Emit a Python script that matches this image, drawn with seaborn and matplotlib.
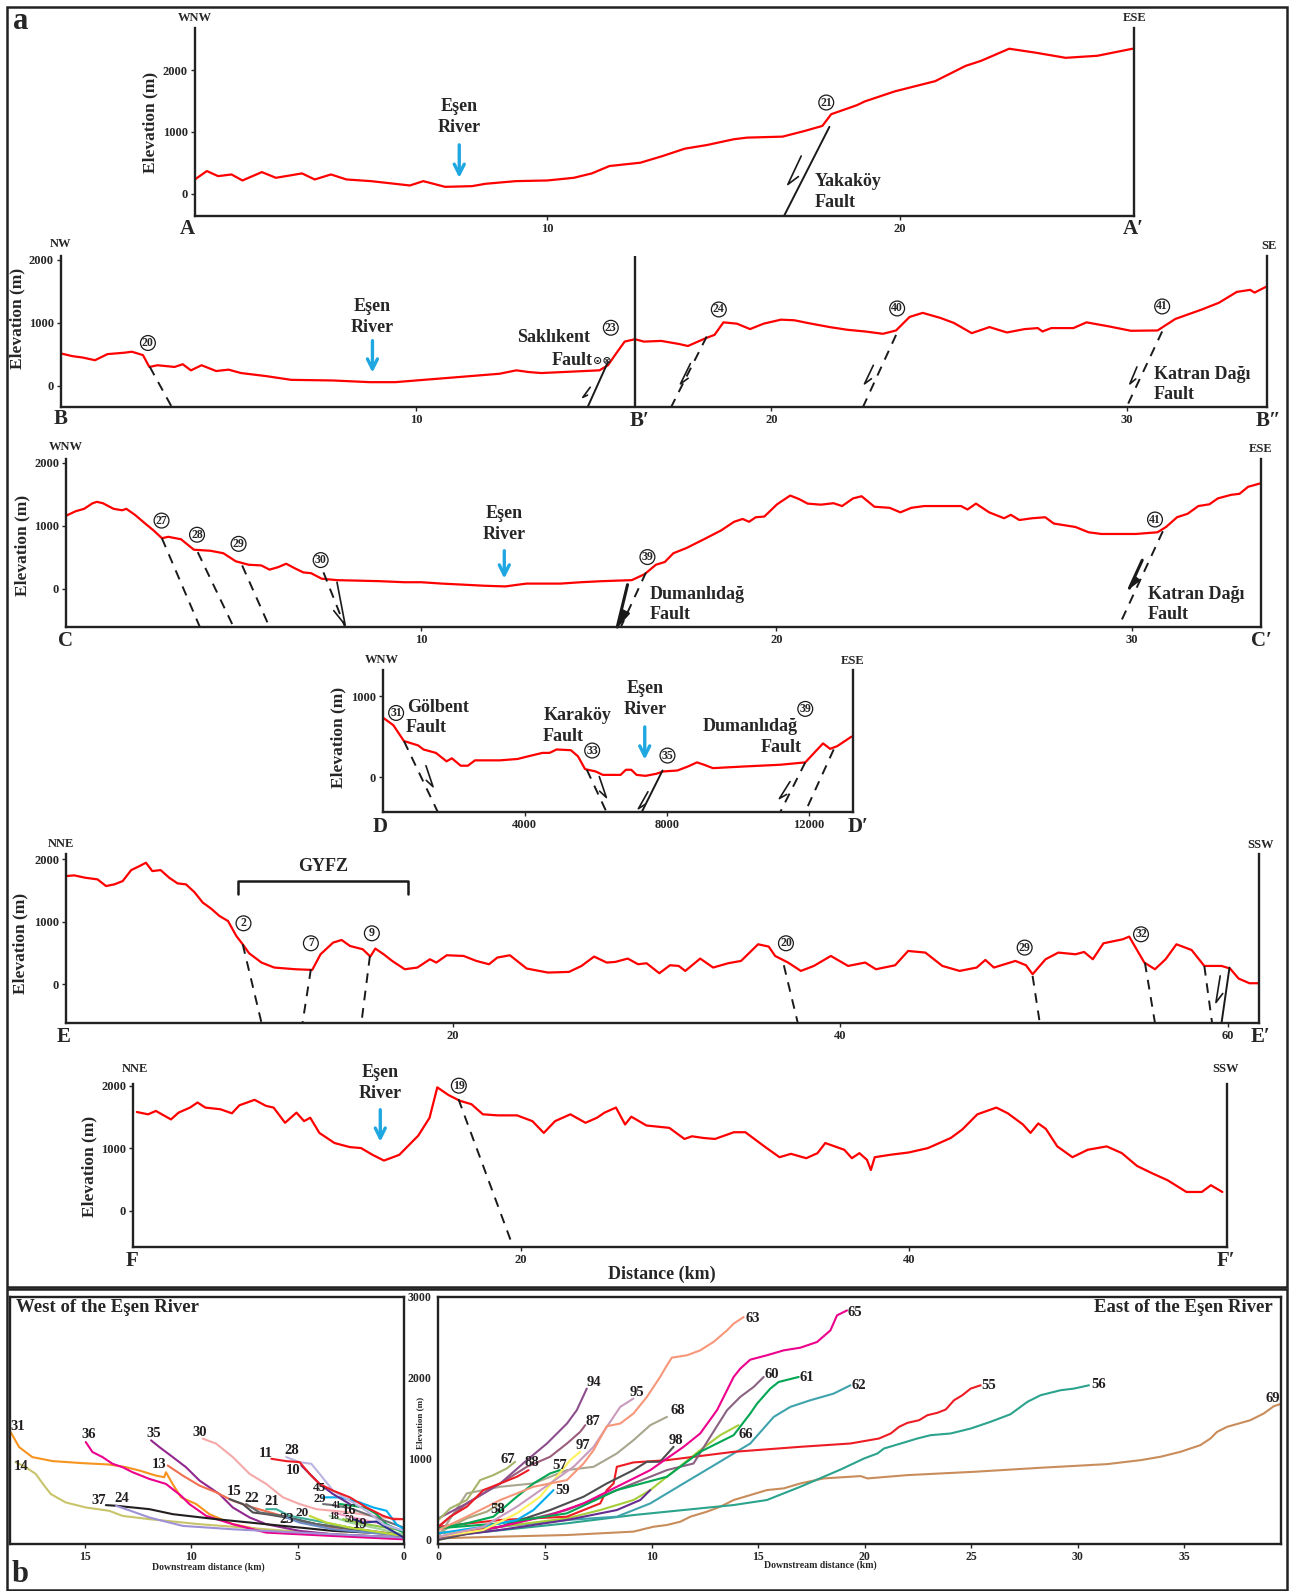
import numpy as np
import pandas as pd
import seaborn as sns
import matplotlib.pyplot as plt
from matplotlib.patches import Rectangle

sns.set_theme(style="white")
plt.rcParams['font.family'] = ['Liberation Serif', 'DejaVu Serif']
plt.rcParams['font.weight'] = 'bold'
plt.rcParams['axes.labelweight'] = 'bold'

# ---------------- topographic profiles (distance km, elevation m) ----------------
A_DIST = [0, 0.34, 0.66, 1.04, 1.35, 1.9, 2.3, 3.04, 3.4, 3.86, 4.3, 5.0, 6.1, 6.48, 7.1, 7.86,
          8.24, 9.1, 10, 10.75, 11.26, 11.76, 12.64, 13.27, 13.9, 14.53, 15.28, 15.66, 16.67,
          17.3, 17.8, 18.05, 18.78, 19.0, 19.86, 21.0, 21.86, 22.3, 23.1, 23.86, 24.7, 25.6, 26.6]
A_ELEV = [232, 368, 286, 313, 216, 351, 259, 330, 232, 313, 232, 205, 135, 205, 113, 124,
          162, 205, 216, 259, 330, 449, 503, 611, 730, 789, 881, 908, 924,
          1016, 1097, 1286, 1432, 1492, 1656, 1820, 2066, 2148, 2344, 2279, 2197, 2230, 2344]

B_DIST = [0, 0.32, 0.61, 0.96, 1.31, 1.78, 2.0, 2.31, 2.49, 2.72, 3.2, 3.43, 3.66, 3.96, 4.37,
          4.72, 5.07, 5.77, 6.48, 7.65, 8.7, 9.41, 10, 11.17, 12.35, 12.82, 13.17, 13.52, 15.16,
          15.4, 15.63, 15.87, 16.16, 16.41, 16.9, 17.4, 17.65, 18.15, 18.4, 18.65, 19.03, 19.4,
          19.78, 20.27, 20.65, 21.02, 21.64, 22.14, 22.64, 23.14, 23.51, 23.89, 24.26, 24.76,
          25.14, 25.64, 26.14, 26.63, 27.13, 27.5, 27.63, 27.88, 28.5, 28.87, 29.5, 30.12,
          30.87, 31.37, 32.12, 32.6, 33.1, 33.48, 33.6, 33.94]
B_ELEV = [511, 468, 446, 403, 500, 522, 538, 484, 296, 323, 296, 339, 242, 323, 231,
          253, 199, 151, 91, 81, 54, 54, 81, 134, 188, 242, 215, 199, 242,
          323, 511, 699, 737, 699, 710, 661, 629, 753, 806, 1005, 984, 898,
          984, 1048, 1038, 995, 930, 887, 860, 823, 876, 1091, 1156, 1075,
          995, 833, 930, 844, 898, 914, 860, 914, 914, 1005, 941, 871,
          876, 1059, 1210, 1317, 1489, 1522, 1478, 1575]

C_DIST = [0, 0.27, 0.51, 0.75, 0.87, 1.04, 1.34, 1.58, 1.7, 1.94, 2.23, 2.47, 2.7, 2.88, 3.24,
          3.6, 4.07, 4.43, 4.78, 5.14, 5.5, 5.73, 5.97, 6.2, 6.44, 6.68, 6.9, 7.2, 7.63, 8.81,
          9.53, 10, 10.59, 11.19, 11.78, 12.37, 12.73, 12.97, 13.44, 13.92, 14.5, 15.1, 15.93,
          16.29, 16.61, 16.86, 17.1, 17.47, 17.96, 18.44, 18.81, 19.05, 19.23, 19.42, 19.66,
          20.02, 20.39, 20.64, 20.88, 21.25, 21.61, 21.85, 22.16, 22.4, 22.76, 23.19, 23.49,
          23.8, 24.16, 24.77, 25.2, 25.38, 25.62, 25.99, 26.41, 26.6, 26.84, 27.2, 27.57,
          27.81, 28.42, 28.79, 29.15, 30.12, 30.73, 30.97, 31.28, 31.58, 31.88, 32.19, 32.43,
          32.8, 33.04, 33.28, 33.63]
C_ELEV = [1156, 1228, 1267, 1356, 1378, 1356, 1267, 1244, 1267, 1172, 1033, 922, 800, 822, 783,
          617, 600, 561, 433, 378, 367, 300, 339, 394, 322, 256, 244, 156, 133, 117,
          100, 100, 78, 61, 44, 33, 61, 78, 78, 78, 100, 117, 133,
          228, 378, 422, 561, 644, 783, 922, 1061, 1106, 1061, 1133, 1144,
          1339, 1478, 1422, 1350, 1333, 1356, 1311, 1433, 1467, 1300, 1283, 1211,
          1283, 1311, 1311, 1311, 1256, 1350, 1211, 1117, 1172, 1089, 1117, 1133,
          1033, 978, 894, 867, 867, 894, 978, 1133, 1189, 1311, 1339, 1433,
          1489, 1506, 1617, 1672]

# profile D distance in metres
D_DIST = [0, 300, 600, 1000, 1150, 1500, 1800, 1950, 2200, 2400, 2600, 3300, 3800, 4100, 4500,
          4700, 4900, 5300, 5500, 5700, 6000, 6200, 6700, 6850, 7000, 7150, 7400, 7700, 7900,
          8300, 8600, 8850, 9050, 9300, 10200, 11200, 11900, 12150, 12400, 12600, 12800, 13200]
D_ELEV = [737, 642, 446, 392, 342, 300, 196, 233, 142, 142, 208, 208, 225, 258, 300,
          300, 342, 333, 258, 100, 71, 29, 29, 92, 92, 29, 17, 42, 71,
          83, 133, 183, 154, 112, 133, 154, 183, 300, 417, 350, 383, 500]

E_DIST = [0, 0.43, 0.98, 1.63, 2.07, 2.5, 2.93, 3.37, 3.8, 4.13, 4.46, 4.89, 5.33, 5.76, 6.2,
          6.63, 7.07, 7.5, 7.93, 8.37, 8.8, 9.13, 9.46, 10.1, 10.76, 11.85, 12.72, 13.15, 13.8,
          14.24, 14.67, 15.33, 15.72, 15.98, 16.41, 16.85, 17.5, 18.15, 18.8, 19.13, 19.67,
          20.54, 21.2, 21.85, 22.28, 22.93, 23.8, 24.89, 25.98, 26.63, 27.28, 27.93, 28.37,
          29.02, 29.55, 29.99, 30.65, 31.2, 31.65, 31.99, 32.76, 33.43, 34.2, 34.87, 35.75,
          36.3, 36.63, 37.3, 37.96, 38.63, 39.51, 40.4, 41.28, 41.84, 42.83, 43.5, 44.39,
          45.27, 46.16, 47.04, 47.49, 47.93, 49.04, 49.59, 49.93, 50.6, 51.26, 52.15, 52.59,
          53.04, 53.59, 54.59, 54.92, 55.7, 56.25, 56.8, 57.36, 58.14, 58.8, 59.69, 60.13,
          60.57, 61.13, 61.64]
E_ELEV = [1733, 1744, 1707, 1680, 1573, 1600, 1653, 1829, 1893, 1947, 1813, 1829, 1707, 1616, 1600,
          1477, 1307, 1211, 1093, 1013, 773, 640, 496, 347, 267, 240, 229, 480, 667,
          709, 613, 560, 443, 571, 480, 373, 240, 267, 400, 347, 464,
          453, 373, 320, 427, 464, 251, 187, 197, 293, 443, 347, 357,
          411, 320, 336, 176, 304, 293, 213, 411, 267, 336, 373, 640,
          603, 453, 347, 213, 293, 453, 293, 347, 240, 304, 533, 507,
          293, 213, 267, 389, 267, 373, 304, 160, 400, 507, 480, 517,
          400, 656, 720, 763, 347, 240, 400, 640, 549, 293, 293, 251,
          91, 16, 16]

F_DIST = [0.2, 0.78, 1.18, 1.96, 2.35, 2.94, 3.33, 3.73, 4.51, 5.1, 5.49, 6.27, 6.86, 7.25, 7.84,
          8.43, 8.82, 9.14, 9.61, 10.39, 11.18, 11.76, 12.35, 12.94, 13.73, 14.71, 15.29, 15.69,
          16.27, 16.86, 17.45, 18.04, 18.82, 19.8, 20.59, 21.18, 21.76, 22.55, 23.33, 23.92,
          24.31, 24.9, 25.37, 25.69, 26.47, 27.65, 28.43, 28.82, 29.41, 30.0, 30.98, 31.57,
          32.55, 33.33, 33.92, 34.71, 35.29, 35.69, 36.67, 37.06, 37.45, 37.84, 38.04, 38.24,
          39.02, 40.0, 40.98, 42.16, 42.75, 43.53, 44.51, 45.1, 45.88, 46.27, 46.67, 47.06,
          47.65, 48.43, 49.22, 50.2, 50.98, 51.76, 52.55, 53.33, 54.31, 55.1, 55.57, 56.16]
F_ELEV = [1578, 1541, 1595, 1459, 1568, 1649, 1730, 1649, 1622, 1557, 1686, 1773, 1676, 1649, 1405,
          1568, 1432, 1486, 1243, 1081, 1016, 1000, 892, 800, 892, 1200, 1486, 1973,
          1849, 1757, 1703, 1541, 1524, 1524, 1432, 1243, 1432, 1541, 1405, 1486,
          1568, 1649, 1378, 1503, 1362, 1324, 1146, 1189, 1162, 1146, 1254, 1254,
          1027, 854, 908, 838, 919, 1081, 973, 838, 919, 811, 649, 854,
          892, 930, 1000, 1162, 1297, 1541, 1649, 1557, 1378, 1243, 1395, 1308,
          1027, 854, 973, 1027, 919, 714, 595, 486, 297, 297, 405, 297]

# faults: (x at surface, elevation at surface, x at section base, style)
FAULTS_A = [(18.0, 1082, 16.71, 'solid')]
FAULTS_B = [(2.5, 300, 3.12, 'dash'), (15.4, 376, 14.83, 'solid'), (18.18, 780, 17.18, 'dash'),
            (23.51, 806, 22.58, 'dash'), (31.0, 860, 30.0, 'dash')]
FAULTS_C = [(2.7, 800, 3.77, 'dash'), (3.71, 578, 4.72, 'dash'), (4.96, 367, 5.73, 'dash'),
            (7.25, 256, 7.86, 'dash'), (16.33, 256, 15.62, 'dash'), (30.88, 911, 29.63, 'dash')]
FAULTS_D = [(600, 446, 1550, 'dash'), (5750, 92, 6300, 'dash'), (7880, 83, 7300, 'solid'),
            (11900, 183, 11200, 'dash'), (12700, 342, 11900, 'dash')]
FAULTS_E = [(9.13, 640, 10.1, 'dash'), (12.65, 240, 12.22, 'dash'), (15.7, 453, 15.26, 'dash'),
            (37.08, 304, 37.8, 'dash'), (49.93, 133, 50.3, 'dash'), (55.73, 347, 56.25, 'dash'),
            (58.8, 293, 59.2, 'dash'), (60.1, 267, 59.69, 'solid')]
FAULTS_F = [(16.78, 1784, 19.6, 'dash')]

# circled fault numbers: (label, x, elevation)
CIRC_A = [('21', 17.91, 1475)]
CIRC_B = [('20', 2.45, 677), ('23', 15.48, 919), ('24', 18.52, 1210), ('40', 23.54, 1226), ('41', 31.0, 1258)]
CIRC_C = [('27', 2.69, 1080), ('28', 3.69, 855), ('29', 4.86, 710), ('30', 7.17, 452),
          ('39', 16.37, 500), ('41', 30.66, 1097)]
CIRC_D = [('31', 380, 792), ('33', 5900, 329), ('35', 8020, 267), ('39', 11900, 842)]
CIRC_E = [('2', 9.17, 976), ('7', 12.65, 656), ('9', 15.8, 816), ('20', 37.19, 656),
          ('29', 49.52, 587), ('32', 55.53, 800)]
CIRC_F = [('19', 16.8, 2000)]

# ---------------- river long profiles (downstream distance km, elevation m) ----------------
W31 = ([18.48, 18.08, 17.46, 16.5, 15.1, 13.85, 13.06, 12.43, 11.65, 11.26, 11.18, 10.87, 10.47, 9.76, 9.14, 8.04, 6.47, 3.33, 0],
       [1328, 1141, 1017, 967, 942, 925, 892, 851, 788, 768, 830, 685, 519, 436, 311, 187, 104, 62, 21])
W14 = ([18.24, 17.77, 17.3, 16.9, 16.59, 15.89, 14.95, 13.85, 13.22, 11.96, 9.6, 6.47, 3.33, 0],
       [954, 892, 809, 664, 560, 456, 394, 353, 290, 249, 187, 124, 62, 21])
W36 = ([14.95, 14.63, 14.16, 13.69, 13.22, 12.75, 11.96, 11.18, 10.47, 10.08, 9.29, 8.04, 6.47, 3.33, 0],
       [1203, 1079, 1017, 934, 892, 830, 747, 685, 539, 436, 290, 187, 83, 41, 0])
W35 = ([11.88, 11.49, 10.86, 10.24, 9.6, 8.67, 8.04, 7.25, 6.47, 4.9, 3.33, 0],
       [1224, 1141, 1017, 892, 726, 560, 394, 270, 187, 104, 62, 21])
W13 = ([11.1, 10.39, 9.6, 8.82, 8.04, 7.1, 6.0, 4.9, 3.33, 0],
       [913, 788, 664, 581, 477, 394, 311, 228, 145, 62])
W30 = ([9.45, 8.82, 8.04, 7.25, 6.47, 5.68, 4.9, 4.11, 2.54, 0.97, 0],
       [1245, 1183, 1017, 809, 685, 519, 436, 373, 332, 270, 249])
W11 = ([6.23, 5.53, 4.9, 4.43, 3.96, 3.33, 2.54, 1.76, 0.97, 0.5, 0],
       [996, 967, 954, 809, 685, 602, 519, 394, 290, 249, 249])
W28 = ([5.53, 4.9, 4.35, 3.96, 3.33, 2.54, 1.76, 0.97, 0],
       [1017, 954, 934, 809, 602, 477, 353, 187, 104])
W10 = ([4.82, 4.43, 3.96, 3.33, 2.54], [913, 809, 685, 560, 436])
W45 = ([3.8, 3.01, 2.07, 1.44, 0.82, 0.35, 0], [519, 519, 456, 394, 353, 187, 124])
W29 = ([3.8, 3.33, 2.54, 1.76, 0], [436, 423, 386, 311, 145])
W41 = ([3.01, 2.39, 1.76, 1.29, 0.82, 0], [436, 415, 386, 311, 187, 83])
W16 = ([3.33, 2.39, 0.97, 0], [332, 270, 187, 104])
W50 = ([2.86, 1.76, 0], [249, 187, 104])
W19 = ([2.39, 1.92, 1.29, 0.82, 0], [249, 207, 220, 145, 21])
W18 = ([3.49, 2.54, 0], [290, 207, 62])
W20 = ([4.43, 3.64, 2.54, 0], [290, 207, 145, 41])
W21 = ([6.47, 6.0, 5.37, 4.11, 2.54, 0], [373, 373, 290, 228, 145, 41])
W22 = ([7.41, 6.78, 5.68, 4.11, 0], [436, 332, 290, 187, 41])
W15 = ([8.2, 7.57, 7.1, 6.47, 5.53, 4.11, 0], [498, 436, 332, 311, 270, 187, 41])
W23 = ([5.53, 4.9, 3.33, 0], [270, 207, 124, 41])
W37 = ([14.0, 13.53, 11.96, 10.86, 8.82, 6.47, 3.33, 0], [423, 415, 373, 311, 249, 187, 104, 62])
W24 = ([13.53, 13.06, 11.96, 10.39, 8.04, 4.9, 0], [415, 373, 270, 166, 124, 83, 21])

E94 = ([0, 1.33, 2.9, 4.15, 5.09, 6.03, 6.49, 6.96], [259, 444, 691, 979, 1185, 1432, 1597, 1864])
E87 = ([0, 1.33, 2.9, 4.15, 5.24, 6.03, 6.65, 6.89], [156, 444, 691, 897, 1021, 1185, 1329, 1412])
E67 = ([0, 0.55, 1.33, 1.96, 2.58, 3.21, 3.6], [239, 383, 486, 733, 794, 877, 959])
E88 = ([0, 0.55, 1.33, 2.11, 2.9, 3.68, 4.23], [156, 280, 403, 609, 691, 774, 856])
E58 = ([0, 0.55, 1.33, 2.27, 2.9], [74, 156, 259, 342, 444])
E63 = ([0, 1.33, 2.9, 4.46, 6.03, 6.81, 7.28, 7.9, 8.53, 9.15, 9.78, 10.4, 10.72, 10.95, 11.66, 12.28, 12.9, 13.54, 13.85, 14.32],
       [115, 280, 486, 650, 733, 938, 1103, 1399, 1432, 1556, 1761, 2008, 2152, 2247, 2276, 2337, 2440, 2584, 2667, 2749])
E68 = ([0, 1.33, 2.9, 4.46, 6.03, 7.28, 8.37, 9.15, 9.94, 10.72], [33, 568, 650, 691, 856, 897, 1062, 1226, 1412, 1514])
E57 = ([0, 1.33, 2.58, 3.68, 4.46, 5.24, 5.71], [136, 198, 280, 527, 691, 815, 856])
E59 = ([0, 2.11, 3.68, 4.46, 5.09, 5.4], [74, 156, 239, 362, 527, 609])
E97 = ([0, 2.11, 3.68, 4.77, 5.55, 6.18, 6.65], [33, 115, 321, 527, 774, 979, 1082])
E95 = ([0, 2.11, 3.68, 5.24, 6.34, 7.28, 7.9, 8.53, 9.15], [33, 156, 403, 691, 897, 1144, 1391, 1638, 1741])
E98 = ([0, 2.9, 5.24, 6.81, 7.9, 9.15, 9.78, 10.4, 11.03], [-8, 156, 362, 527, 691, 856, 959, 959, 1144])
EDP = ([0, 3.0, 6.03, 8.37, 9.47, 9.94], [20, 120, 239, 362, 486, 609])
E66 = ([0, 2.9, 6.03, 7.59, 9.15, 9.94, 10.72, 11.5, 12.28, 13.22, 14.08], [74, 156, 259, 362, 486, 609, 774, 938, 1103, 1288, 1412])
E65 = ([0, 2.9, 5.24, 6.81, 8.37, 9.94, 11.5, 12.28, 13.07, 13.85, 14.16, 14.63, 15.41, 16.2, 16.98, 17.76, 18.39, 18.7, 19.17],
       [33, 156, 300, 444, 650, 856, 1144, 1309, 1597, 2008, 2111, 2222, 2276, 2337, 2370, 2440, 2584, 2770, 2831])
E60 = ([0, 2.9, 6.03, 8.37, 10.72, 11.97, 12.75, 13.54, 14.16, 14.79, 15.26], [12, 156, 362, 609, 856, 938, 1267, 1597, 1761, 1885, 2008])
E61 = ([0, 2.9, 6.03, 8.37, 10.72, 12.28, 13.85, 14.63, 14.95, 15.57, 15.96, 16.9],
       [136, 198, 321, 609, 774, 1082, 1288, 1556, 1679, 1864, 1946, 2008])
E62 = ([0, 2.9, 6.03, 8.37, 9.94, 11.5, 13.07, 14.63, 15.73, 16.51, 17.45, 18.54, 19.33],
       [74, 156, 239, 280, 444, 691, 938, 1185, 1514, 1638, 1720, 1802, 1905])
E55 = ([0, 2.9, 6.03, 7.59, 7.9, 8.22, 8.37, 9.15, 10.72, 13.85, 16.98, 19.33, 20.67, 21.22, 21.61, 22.0, 22.55, 22.94, 23.4, 23.8, 24.19, 24.58, 24.97, 25.44],
       [156, 239, 280, 444, 609, 691, 897, 951, 979, 1082, 1144, 1185, 1247, 1309, 1391, 1440, 1473, 1535, 1564, 1605, 1720, 1782, 1864, 1905])
E56 = ([0, 6.03, 9.15, 12.28, 13.85, 15.41, 16.98, 18.875, 19.97, 20.6, 20.9, 21.69, 22.47, 23.09, 24.03, 24.97, 25.9, 26.84, 27.63, 28.25, 29.19, 29.81, 30.52],
       [33, 198, 300, 383, 424, 486, 650, 864, 1000, 1062, 1123, 1185, 1247, 1288, 1309, 1370, 1453, 1547, 1700, 1782, 1844, 1864, 1905])
E69 = ([0, 2.9, 6.03, 9.15, 9.78, 10.1, 10.72, 11.35, 11.82, 12.6, 13.22, 13.85, 14.63, 15.41, 16.2, 16.98, 18.07, 19.81, 20.125, 22.0, 25.125, 28.25, 31.375, 32.94, 33.875, 34.81, 35.75, 36.22, 36.53, 37.0, 38.09, 38.72, 39.19, 39.58],
       [12, 33, 53, 95, 136, 156, 177, 218, 280, 342, 403, 486, 547, 609, 630, 691, 753, 782, 753, 794, 835, 885, 930, 979, 1021, 1082, 1165, 1247, 1329, 1391, 1473, 1556, 1646, 1679])

WEST = {'31': W31, '14': W14, '36': W36, '35': W35, '13': W13, '30': W30, '37': W37, '24': W24,
        '15': W15, '22': W22, '21': W21, '23': W23, '20': W20, '18': W18, '50': W50, '16': W16,
        '41': W41, '29': W29, '19': W19, '45': W45, '28': W28, '10': W10, '11': W11}
EAST = {'69': E69, '56': E56, '62': E62, '66': E66, '55': E55, '58': E58, '68': E68, 'dp': EDP,
        '98': E98, '60': E60, '65': E65, '61': E61, '57': E57, '59': E59, '97': E97, '95': E95,
        '63': E63, '87': E87, '94': E94, '67': E67, '88': E88}

WEST_COLORS = {'31': '#f7941d', '14': '#c9c46a', '36': '#ec008c', '35': '#92278f', '13': '#f26f4f',
               '30': '#f5a9a9', '11': '#ed1c24', '28': '#b9b4e0', '10': '#662d91', '45': '#00aeef',
               '29': '#6d6e71', '41': '#00a651', '16': '#f49ac1', '50': '#8dc63f', '19': '#2e3192',
               '18': '#a3d39c', '20': '#bfd730', '21': '#3fae9a', '22': '#636466', '15': '#4d4d4f',
               '23': '#6b8cc7', '37': '#231f20', '24': '#9e91d6'}
EAST_COLORS = {'94': '#8c4f8c', '87': '#9c5c7c', '67': '#a7b46a', '88': '#ed1c24', '58': '#aaa67c',
               '63': '#f7977a', '68': '#a8a68e', '57': '#00a651', '59': '#00aeef', '97': '#fff25a',
               '95': '#c99bbd', '98': '#4d4d4f', '66': '#a6ce39', '65': '#ec008c', '60': '#8a6282',
               '61': '#00a651', '62': '#3fa3ad', '55': '#ed1c24', '56': '#2ba38d', '69': '#c98c5b',
               'dp': '#662d91'}

# label anchors for the stream numbers
WEST_LABELS = {'31': (18.12, 1390), '14': (18.0, 900), '36': (14.79, 1299), '35': (11.77, 1307),
               '30': (9.58, 1320), '13': (11.52, 925), '11': (6.51, 1066), '28': (5.29, 1100),
               '10': (5.21, 851), '37': (14.32, 477), '24': (13.25, 510), '15': (7.96, 593),
               '22': (7.17, 510), '21': (6.2, 469), '20': (4.8, 325), '23': (5.49, 249),
               '45': (3.95, 630), '29': (3.95, 495), '41': (3.14, 415), '16': (2.57, 361),
               '18': (3.3, 282), '50': (2.54, 249), '19': (2.07, 178)}
EAST_LABELS = {'94': (7.31, 1942), '87': (7.23, 1453), '97': (6.78, 1165), '95': (9.31, 1815),
               '63': (14.76, 2728), '68': (11.22, 1597), '98': (11.16, 1218), '66': (14.4, 1300),
               '60': (15.65, 2041), '61': (17.26, 2000), '67': (3.26, 988), '88': (4.38, 947),
               '57': (5.67, 918), '59': (5.82, 601), '58': (2.79, 374), '65': (19.53, 2811),
               '62': (19.73, 1897), '55': (25.83, 1897), '56': (30.95, 1914), '69': (39.14, 1741)}

# ---------------- figure ----------------
W, H = 1275.0, 1568.0
fig = plt.figure(figsize=(12.94, 15.91), dpi=100)


def frac(l, t, r, b):
    return [l / W, 1 - b / H, (r - l) / W, (b - t) / H]


def ftext(x, y, s, **kw):
    kw.setdefault('ha', 'center')
    kw.setdefault('va', 'center')
    kw.setdefault('fontweight', 'bold')
    fig.text(x / W, 1 - y / H, s, **kw)


def profile_axes(box, xlim, ylim, xticks, yticks):
    ax = fig.add_axes(frac(*box))
    ax.set_xlim(xlim)
    ax.set_ylim(ylim)
    ax.set_facecolor('none')
    ax.spines['top'].set_visible(False)
    for s in ['left', 'bottom', 'right']:
        ax.spines[s].set_linewidth(1.7)
        ax.spines[s].set_color('#222222')
    ax.set_xticks(xticks)
    ax.set_yticks(yticks)
    ax.tick_params(labelsize=9, length=3, width=1, pad=2, bottom=True, left=True)
    return ax


def draw_profile(ax, d, e):
    sns.lineplot(x=d, y=e, ax=ax, color='#ff0000', linewidth=1.6, estimator=None, sort=False)
    ax.set_xlabel('')
    ax.set_ylabel('')


def draw_faults(ax, faults):
    ybot = ax.get_ylim()[0]
    for xt, et, xb, style in faults:
        ls = (0, (5, 4)) if style == 'dash' else '-'
        ax.plot([xt, xb], [et, ybot], color='k', lw=1.4, ls=ls, clip_on=False)


def draw_circles(ax, circles):
    for s, x, y in circles:
        ax.text(x, y, s, ha='center', va='center', fontsize=8.5,
                bbox=dict(boxstyle='circle,pad=0.12', fc='white', ec='k', lw=0.9))


def half_arrow(ax, tail, tip, side=1, bold=False):
    T = ax.transData
    p0 = T.transform(tail)
    p1 = T.transform(tip)
    v = p0 - p1
    L = np.hypot(*v)
    u = v / L
    a = np.radians(28) * side
    rot = np.array([[np.cos(a), -np.sin(a)], [np.sin(a), np.cos(a)]])
    b = p1 + rot @ u * L * 0.42
    pts = T.inverted().transform(np.array([p0, p1, b]))
    if bold:
        m = T.inverted().transform(p1 + u * L * 0.42)
        ax.fill([pts[1, 0], pts[2, 0], m[0]], [pts[1, 1], pts[2, 1], m[1]], color='k', clip_on=False)
        ax.plot(pts[:2, 0], pts[:2, 1], color='k', lw=2.2, clip_on=False)
    else:
        ax.plot(pts[:, 0], pts[:, 1], color='k', lw=1.2, clip_on=False)


def esen(ax, x, y_text, y_tail, y_tip, size=13):
    ax.text(x, y_text, 'Eşen\nRiver', ha='center', va='center', fontsize=size, linespacing=1.3)
    ax.annotate('', xy=(x, y_tip), xytext=(x, y_tail),
                arrowprops=dict(arrowstyle='->', color='#1fa7e1', lw=2.4, mutation_scale=18))


# ---- profile A
axA = profile_axes((192, 28, 1117, 213), (0, 26.63), (-360, 2672), [10, 20], [0, 1000, 2000])
draw_profile(axA, A_DIST, A_ELEV)
draw_faults(axA, FAULTS_A)
draw_circles(axA, CIRC_A)
half_arrow(axA, (17.2, 611), (16.82, 151), side=-1)
esen(axA, 7.5, 1246, 836, 213)
axA.text(17.57, 33, 'Yakaköy\nFault', ha='left', va='center', fontsize=13, linespacing=1.3)

# ---- profile B
axB = profile_axes((60, 252, 1248, 401), (0, 33.94), (-339, 2065), [10, 20, 30], [0, 1000, 2000])
draw_profile(axB, B_DIST, B_ELEV)
axB.axvline(16.16, color='#222222', lw=1.7)
draw_faults(axB, FAULTS_B)
draw_circles(axB, CIRC_B)
half_arrow(axB, (14.9, -27), (14.69, -188), side=-1)
half_arrow(axB, (17.72, 349), (17.44, 27), side=-1)
half_arrow(axB, (22.87, 323), (22.62, 27), side=-1)
half_arrow(axB, (30.29, 296), (30.09, 27), side=-1)
esen(axB, 8.77, 1097, 758, 161)
axB.text(13.88, 758, 'Saklıkent', ha='center', va='center', fontsize=13)
axB.text(14.98, 403, 'Fault', ha='right', va='center', fontsize=13)
axB.text(14.99, 395, '⊙⊗', ha='left', va='center', fontsize=8, family='DejaVu Sans')
axB.text(30.77, 16, 'Katran Dağı\nFault', ha='left', va='center', fontsize=13, linespacing=1.25)

# ---- profile C
axC = profile_axes((65, 452, 1242, 618), (0, 33.63), (-613, 2065), [10, 20, 30], [0, 1000, 2000])
draw_profile(axC, C_DIST, C_ELEV)
draw_faults(axC, FAULTS_C)
draw_circles(axC, CIRC_C)
half_arrow(axC, (7.63, 100), (7.86, -578), side=1)
half_arrow(axC, (15.81, 61), (15.52, -613), side=-1, bold=True)
half_arrow(axC, (30.3, 450), (29.94, 6), side=-1, bold=True)
esen(axC, 12.34, 1032, 645, 113)
axC.text(16.43, -258, 'Dumanlıdağ\nFault', ha='left', va='center', fontsize=13, linespacing=1.25)
axC.text(30.46, -258, 'Katran Dağı\nFault', ha='left', va='center', fontsize=13, linespacing=1.25)

# ---- profile D
axD = profile_axes((377, 660, 840, 800), (0, 13230), (-425, 1325), [4000, 8000, 12000], [0, 1000])
draw_profile(axD, D_DIST, D_ELEV)
draw_faults(axD, FAULTS_D)
draw_circles(axD, CIRC_D)
half_arrow(axD, (1220, 142), (1420, -117), side=1)
half_arrow(axD, (6100, 8), (6300, -250), side=1)
half_arrow(axD, (7470, -179), (7200, -388), side=-1)
half_arrow(axD, (11470, -54), (11170, -263), side=-1)
esen(axD, 7380, 960, 654, 183)
axD.text(700, 862, 'Gölbent', ha='left', va='center', fontsize=13)
axD.text(650, 612, 'Fault', ha='left', va='center', fontsize=13)
axD.text(5500, 758, 'Karaköy', ha='center', va='center', fontsize=13)
axD.text(5090, 500, 'Fault', ha='center', va='center', fontsize=13)
axD.text(10350, 625, 'Dumanlıdağ', ha='center', va='center', fontsize=13)
axD.text(11800, 362, 'Fault', ha='right', va='center', fontsize=13)

# ---- profile E
axE = profile_axes((65, 842, 1241, 1008), (0, 61.65), (-618, 2081), [20, 40, 60], [0, 1000, 2000])
draw_profile(axE, E_DIST, E_ELEV)
draw_faults(axE, FAULTS_E)
draw_circles(axE, CIRC_E)
half_arrow(axE, (59.62, 133), (59.4, -293), side=-1)
axE.plot([8.87, 8.87, 17.65, 17.65], [1440, 1653, 1653, 1440], color='k', lw=1.8)
axE.text(13.3, 1880, 'GYFZ', ha='center', va='center', fontsize=13)

# ---- profile F
axF = profile_axes((131, 1068, 1209, 1229), (0, 56.4), (-585, 2032), [20, 40], [0, 1000, 2000])
draw_profile(axF, F_DIST, F_ELEV)
draw_faults(axF, FAULTS_F)
draw_circles(axF, CIRC_F)
esen(axF, 12.75, 2040, 1659, 1057)

# direction / end labels (figure pixel positions)
for s, x, y in [('WNW', 192, 18), ('ESE', 1118, 18), ('NW', 60, 240), ('SE', 1250, 242),
                ('WNW', 65, 441), ('ESE', 1242, 443), ('WNW', 376, 650), ('ESE', 840, 651),
                ('NNE', 60, 832), ('SSW', 1242, 833), ('NNE', 133, 1054), ('SSW', 1208, 1054)]:
    ftext(x, y, s, fontsize=9)
for s, x, y in [('A', 185, 226), ('A′', 1117, 226), ('B', 60, 413), ('B′', 630, 415),
                ('B″', 1250, 415), ('C', 65, 632), ('C′', 1243, 632), ('D', 375, 815),
                ('D′', 845, 815), ('E', 63, 1022), ('E′', 1242, 1022), ('F', 130, 1243),
                ('F′', 1208, 1243)]:
    ftext(x, y, s, fontsize=15)
for x, y in [(148, 121), (17, 314), (22, 538), (333, 727), (20, 930), (88, 1150)]:
    ftext(x, y, 'Elevation (m)', fontsize=12.5, rotation=90)
ftext(652, 1256, 'Distance (km)', fontsize=13)
ftext(20, 21, 'a', fontsize=22)
ftext(20, 1552, 'b', fontsize=22)

# frames
for (l, t, r, b) in [(7, 7, 1268, 1268), (7, 1270, 1268, 1567)]:
    fig.add_artist(Rectangle((l / W, 1 - b / H), (r - l) / W, (b - t) / H, transform=fig.transFigure,
                             fill=False, ec='#222222', lw=1.8))

# ---------------- panel b ----------------
def long_df(streams):
    rows = []
    for k, (d, e) in streams.items():
        rows.append(pd.DataFrame({'stream': k, 'dist': d, 'elev': e}))
    return pd.concat(rows, ignore_index=True)


def river_axes(box, xlim, xticks):
    ax = fig.add_axes(frac(*box))
    ax.set_xlim(xlim)
    ax.set_ylim(-62, 3000)
    for s in ax.spines.values():
        s.set_linewidth(1.7)
        s.set_color('#222222')
    ax.set_xticks(xticks)
    ax.tick_params(labelsize=8.5, length=3, width=1, pad=2, bottom=True)
    return ax


axW = river_axes((10, 1278, 398, 1522), (18.5, 0), [15, 10, 5, 0])
axW.set_yticks([])
sns.lineplot(data=long_df(WEST), x='dist', y='elev', hue='stream', palette=WEST_COLORS, ax=axW,
             estimator=None, sort=False, legend=False, linewidth=1.5)
axW.set_xlabel('')
axW.set_ylabel('')
small = {'41': 7, '18': 7, '50': 7, '45': 9.5, '29': 9, '20': 9.5}
for k, (x, y) in WEST_LABELS.items():
    axW.text(x, y, k, ha='center', va='center', fontsize=small.get(k, 10.5), color='#231f20')
axW.text(0.015, 0.955, 'West of the Eşen River', transform=axW.transAxes, ha='left', va='center', fontsize=13.5)

axEa = river_axes((432, 1278, 1262, 1522), (0, 39.52), [0, 5, 10, 15, 20, 25, 30, 35])
axEa.set_yticks([0, 1000, 2000, 3000])
sns.lineplot(data=long_df(EAST), x='dist', y='elev', hue='stream', palette=EAST_COLORS, ax=axEa,
             estimator=None, sort=False, legend=False, linewidth=1.5)
axEa.set_xlabel('')
axEa.set_ylabel('')
for k, (x, y) in EAST_LABELS.items():
    axEa.text(x, y, k, ha='center', va='center', fontsize=10.5, color='#231f20')
axEa.text(0.99, 0.955, 'East of the Eşen River', transform=axEa.transAxes, ha='right', va='center', fontsize=13.5)

ftext(414, 1402, 'Elevation (m)', fontsize=6.5, rotation=90)
ftext(205, 1545, 'Downstream distance (km)', fontsize=7)
ftext(808, 1543, 'Downstream distance (km)', fontsize=7)

fig.savefig('out.png', dpi=100)
